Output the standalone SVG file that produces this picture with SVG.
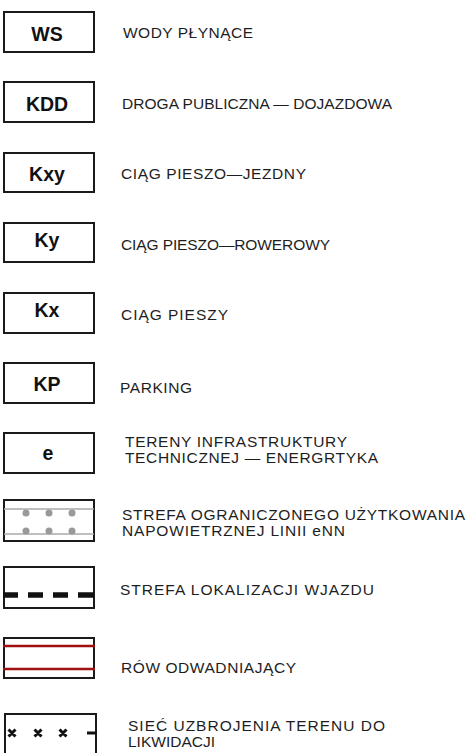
<svg xmlns="http://www.w3.org/2000/svg" width="470" height="753" viewBox="0 0 470 753">
<style>
.box{fill:#fff;stroke:#1a1a1a;stroke-width:2}
.code{font-family:"Liberation Sans",Arial,sans-serif;font-weight:bold;font-size:19.5px;fill:#111;text-anchor:middle}
.lbl{font-family:"Liberation Sans",Arial,sans-serif;font-size:15.5px;fill:#1e1e1e}
.grey{stroke:#aaa;stroke-width:1.5}
.dot{fill:#999}
.red{stroke:#a01010;stroke-width:2.5}
.dash{stroke:#111;stroke-width:5.5}
.x{stroke:#111;stroke-width:3;fill:none}
</style>
<rect width="470" height="753" fill="#fff"/>
<g id="ws"><rect class="box" x="4" y="12" width="90" height="40"/><text class="code" x="47" y="41">WS</text></g>
<g id="kdd"><rect class="box" x="4" y="82" width="90" height="40"/><text class="code" x="47" y="111">KDD</text></g>
<g id="kxy"><rect class="box" x="4" y="153" width="90" height="39"/><text class="code" x="47" y="181">Kxy</text></g>
<g id="ky"><rect class="box" x="4" y="223" width="90" height="39"/><text class="code" x="47" y="247">Ky</text></g>
<g id="kx"><rect class="box" x="4" y="293" width="90" height="40"/><text class="code" x="47" y="317">Kx</text></g>
<g id="kp"><rect class="box" x="4" y="363" width="90" height="40"/><text class="code" x="47" y="391">KP</text></g>
<g id="e"><rect class="box" x="4" y="433" width="90" height="40"/><text class="code" x="48" y="460">e</text></g>
<g id="strefa-nn">
<rect class="box" x="4" y="500" width="90" height="41"/>
<line class="grey" x1="4" y1="509" x2="94" y2="509"/>
<line class="grey" x1="4" y1="534" x2="94" y2="534"/>
<circle class="dot" cx="26" cy="513" r="3.5"/><circle class="dot" cx="49" cy="513" r="3.5"/><circle class="dot" cx="72" cy="513" r="3.5"/>
<circle class="dot" cx="26" cy="531" r="3.5"/><circle class="dot" cx="49" cy="531" r="3.5"/><circle class="dot" cx="72" cy="531" r="3.5"/>
</g>
<g id="wjazd">
<rect class="box" x="4" y="567" width="90" height="41"/>
<line class="dash" x1="3" y1="595" x2="18" y2="595"/>
<line class="dash" x1="28" y1="595" x2="43" y2="595"/>
<line class="dash" x1="53" y1="595" x2="68" y2="595"/>
<line class="dash" x1="78" y1="595" x2="94" y2="595"/>
</g>
<g id="row">
<rect class="box" x="4" y="638" width="90" height="40"/>
<line class="red" x1="3" y1="646" x2="95" y2="646"/>
<line class="red" x1="3" y1="669" x2="95" y2="669"/>
</g>
<g id="siec">
<rect class="box" x="5" y="714" width="91" height="60"/>
<path class="x" d="M8.5 729.5l7 7M15.5 729.5l-7 7M34.5 729.5l7 7M41.5 729.5l-7 7M59.5 729.5l7 7M66.5 729.5l-7 7M87 733h10"/>
</g>
<g id="labels">
<text class="lbl" x="123" y="38" textLength="130" lengthAdjust="spacing">WODY PŁYNĄCE</text>
<text class="lbl" x="122" y="109" textLength="270" lengthAdjust="spacing">DROGA PUBLICZNA — DOJAZDOWA</text>
<text class="lbl" x="121" y="179" textLength="185" lengthAdjust="spacing">CIĄG PIESZO—JEZDNY</text>
<text class="lbl" x="121" y="250" textLength="209" lengthAdjust="spacing">CIĄG PIESZO—ROWEROWY</text>
<text class="lbl" x="121" y="320" textLength="107" lengthAdjust="spacing">CIĄG PIESZY</text>
<text class="lbl" x="120" y="393" textLength="72" lengthAdjust="spacing">PARKING</text>
<text class="lbl" x="125" y="447" textLength="222" lengthAdjust="spacing">TERENY INFRASTRUKTURY</text>
<text class="lbl" x="125" y="463" textLength="253" lengthAdjust="spacing">TECHNICZNEJ — ENERGRTYKA</text>
<text class="lbl" x="122" y="520" textLength="343" lengthAdjust="spacing">STREFA OGRANICZONEGO UŻYTKOWANIA</text>
<text class="lbl" x="122" y="536" textLength="223" lengthAdjust="spacing">NAPOWIETRZNEJ LINII eNN</text>
<text class="lbl" x="120" y="595" textLength="254" lengthAdjust="spacing">STREFA LOKALIZACJI WJAZDU</text>
<text class="lbl" x="121" y="673" textLength="175" lengthAdjust="spacing">RÓW ODWADNIAJĄCY</text>
<text class="lbl" x="128" y="731" textLength="257" lengthAdjust="spacing">SIEĆ UZBROJENIA TERENU DO</text>
<text class="lbl" x="128" y="747">LIKWIDACJI</text>
</g>
</svg>
